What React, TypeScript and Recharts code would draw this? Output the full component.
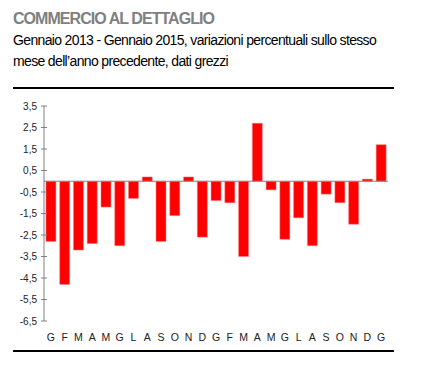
import { BarChart, Bar, XAxis, YAxis, ReferenceLine } from 'recharts';

const months = ['G', 'F', 'M', 'A', 'M', 'G', 'L', 'A', 'S', 'O', 'N', 'D', 'G', 'F', 'M', 'A', 'M', 'G', 'L', 'A', 'S', 'O', 'N', 'D', 'G'];
const changes = [-2.8, -4.8, -3.2, -2.9, -1.2, -3.0, -0.8, 0.2, -2.8, -1.6, 0.2, -2.6, -0.9, -1.0, -3.5, 2.7, -0.4, -2.7, -1.7, -3.0, -0.6, -1.0, -2.0, 0.1, 1.7];
const yTicks = [3.5, 2.5, 1.5, 0.5, -0.5, -1.5, -2.5, -3.5, -4.5, -5.5, -6.5];

const data = months.map((m, i) => ({ id: i, month: m, value: changes[i] }));

const font = '"Liberation Sans", Arial, sans-serif';

const YTick = (props: any) => {
  const { x, y, payload } = props;
  return (
    <g>
      <line x1={x - 3} x2={x + 3} y1={y} y2={y} stroke="#808080" strokeWidth={1} />
      <text x={x - 7} y={y} dy={3.5} textAnchor="end" fontSize={10} fill="#222" fontFamily={font}>
        {String(payload.value).replace('.', ',')}
      </text>
    </g>
  );
};

export default function App() {
  return (
    <div style={{ position: 'absolute', left: 0, top: 0, width: 423, height: 369, background: '#fff', fontFamily: font }}>
      <div style={{ position: 'absolute', left: 13, top: 10, fontSize: 16, fontWeight: 700, color: '#808080', letterSpacing: -0.95, whiteSpace: 'nowrap' }}>
        COMMERCIO AL DETTAGLIO
      </div>
      <div style={{ position: 'absolute', left: 13, top: 30, width: 400, fontSize: 14, lineHeight: '20.7px', color: '#000', letterSpacing: -0.65 }}>
        Gennaio 2013 - Gennaio 2015, variazioni percentuali sullo stesso<br />
        mese dell’anno precedente, dati grezzi
      </div>
      <div style={{ position: 'absolute', left: 13, top: 87, width: 381, height: 2, background: '#000' }} />
      <div style={{ position: 'absolute', left: 0, top: 96 }}>
        <BarChart
          width={400}
          height={250}
          data={data}
          margin={{ top: 10, right: 12, left: 0, bottom: 0 }}
          barCategoryGap="14%"
        >
          <XAxis
            dataKey="id"
            tickFormatter={(i: number) => months[i]}
            interval={0}
            axisLine={false}
            tickLine={false}
            tickMargin={7}
            height={25}
            tick={{ fontSize: 10.5, fill: '#222', fontFamily: font }}
          />
          <YAxis
            domain={[-6.5, 3.5]}
            ticks={yTicks}
            width={44}
            interval={0}
            tickSize={0}
            tickMargin={0}
            axisLine={{ stroke: '#808080', strokeWidth: 1 }}
            tickLine={false}
            tick={<YTick />}
          />
          <ReferenceLine y={0} stroke="#808080" strokeWidth={1.2} />
          <Bar dataKey="value" fill="#ff0000" stroke="#ff8080" strokeWidth={0.5} isAnimationActive={false} />
        </BarChart>
      </div>
      <div style={{ position: 'absolute', left: 13, top: 350, width: 381, height: 2, background: '#000' }} />
    </div>
  );
}
